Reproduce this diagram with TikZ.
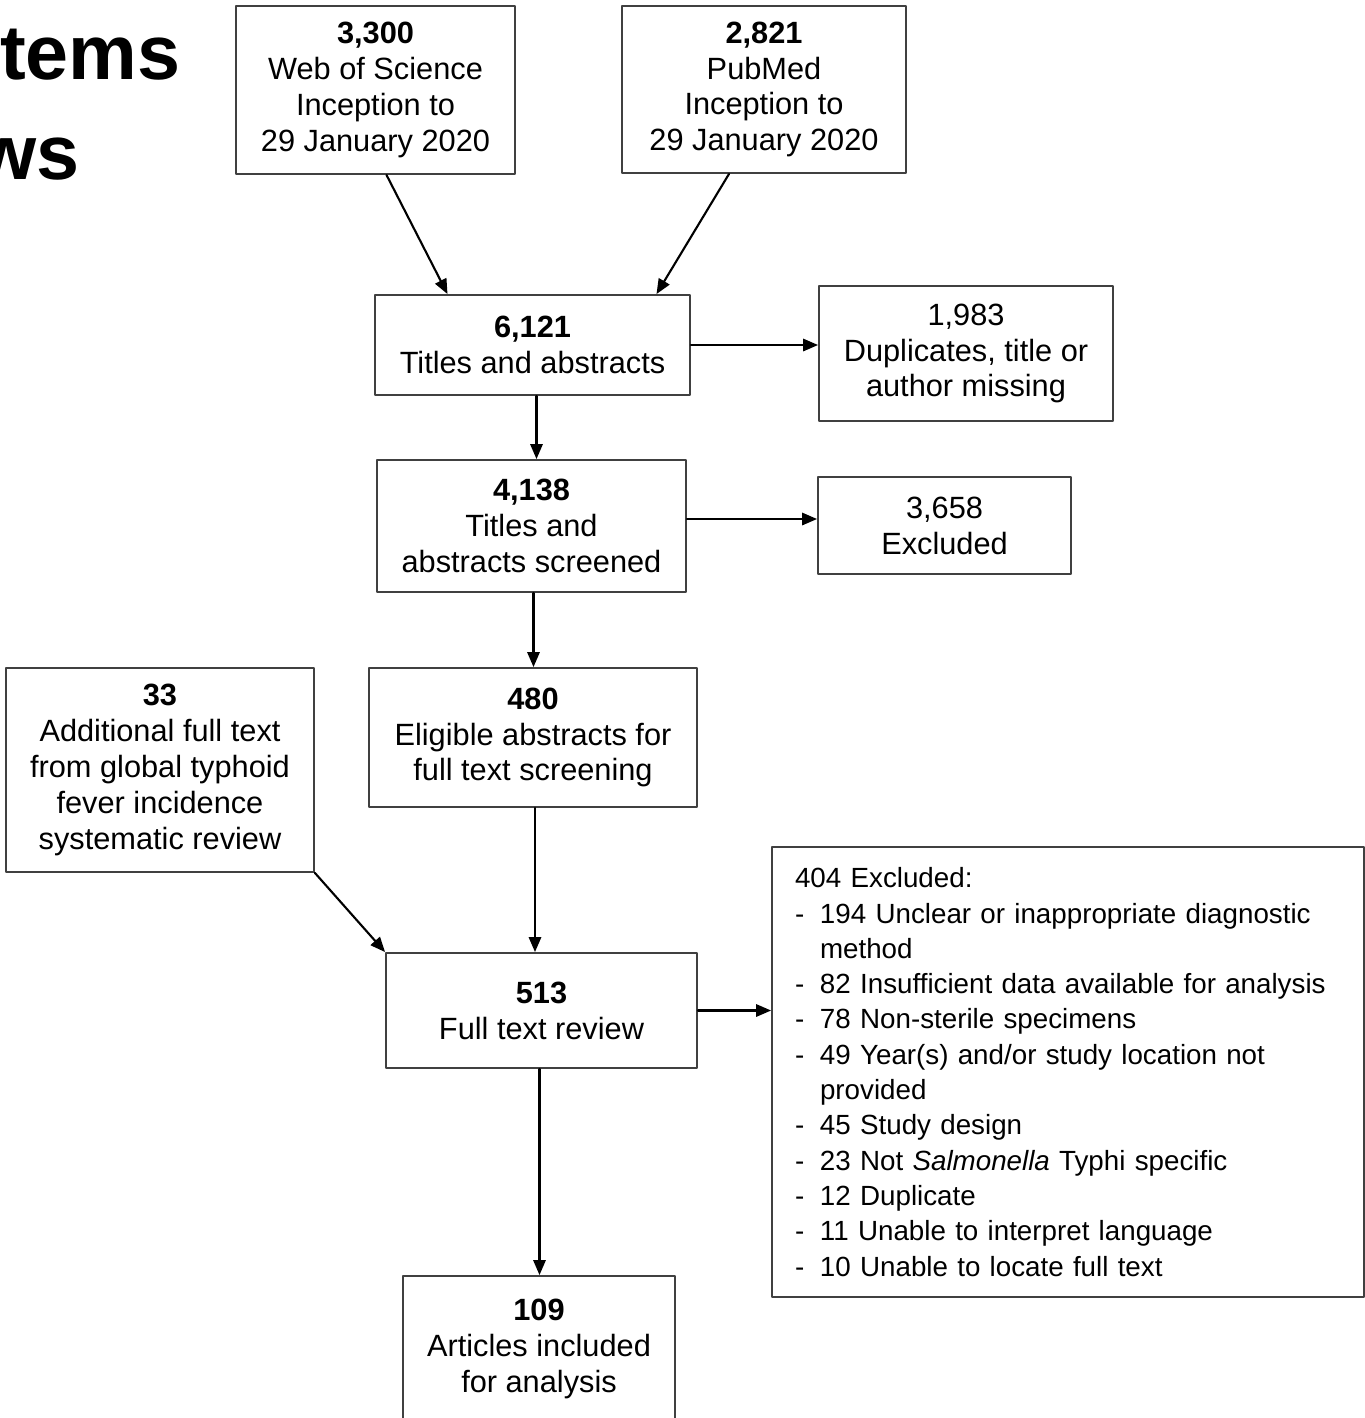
\documentclass[tikz,border=0pt]{standalone}
\usepackage{fontspec}
\setmainfont{Liberation Sans}
\usetikzlibrary{arrows.meta,calc}
\newcommand{\exitem}[1]{\mbox{\makebox[14.2pt][l]{-}#1}}
\newcommand{\excont}[1]{\mbox{\hspace*{14.2pt}#1}}
\hyphenpenalty=10000
\begin{document}
\begin{tikzpicture}[line cap=round,line join=round,>={Triangle[length=8.5pt,width=7pt]},x=0.02cm,y=-0.02cm,
	box/.style={draw=black!75,line width=1.1pt,align=center,inner sep=0pt,font=\fontsize{17.5}{20.4}\selectfont},
	flow/.style={->,line width=1.2pt},
	heading/.style={inner sep=0pt,font=\fontsize{44}{48}\selectfont\bfseries}]
	\clip (0,0) rectangle (1365,1418);
	\node[heading,anchor=base east] (tems) at (181,79) {tems};
	\node[heading,anchor=base east] (ws) at (80,179) {ws};
	\node[box,minimum width=5.58cm,minimum height=3.36cm] (wos) at (375.5,90) {\textbf{3,300}\\Web of Science\\Inception to\\29 January 2020};
	\node[box,minimum width=5.68cm,minimum height=3.34cm] (pubmed) at (764,89.5) {\textbf{2,821}\\PubMed\\Inception to\\29 January 2020};
	\node[box,minimum width=6.3cm,minimum height=2cm] (titles) at (532.5,345) {\textbf{6,121}\\Titles and abstracts};
	\node[box,minimum width=5.88cm,minimum height=2.7cm] (dupl) at (966,353.5) {1,983\\Duplicates, title or\\author missing};
	\node[box,minimum width=6.18cm,minimum height=2.64cm] (screened) at (531.5,526) {\textbf{4,138}\\Titles and\\abstracts screened};
	\node[box,minimum width=5.06cm,minimum height=1.94cm] (excl) at (944.5,525.5) {3,658\\Excluded};
	\node[box,minimum width=6.56cm,minimum height=2.78cm] (eligible) at (533,737.5) {\textbf{480}\\Eligible abstracts for\\full text screening};
	\node[box,minimum width=6.16cm,minimum height=4.08cm] (additional) at (160,770) {\textbf{33}\\Additional full text\\from global typhoid\\fever incidence\\systematic review};
	\node[box,minimum width=6.22cm,minimum height=2.3cm] (fulltext) at (541.5,1010.5) {\textbf{513}\\Full text review};
	\node[box,align=left,text width=10.92cm,inner xsep=0.46cm,minimum height=9cm,
		font=\fontsize{15.8}{20.1}\selectfont] (reasons) at (1068,1072) {404 Excluded:\\
		\exitem{194 Unclear or inappropriate diagnostic}\\
		\excont{method}\\
		\exitem{82 Insufficient data available for analysis}\\
		\exitem{78 Non-sterile specimens}\\
		\exitem{49 Year(s) and/or study location not}\\
		\excont{provided}\\
		\exitem{45 Study design}\\
		\exitem{23 Not \textit{Salmonella} Typhi specific}\\
		\exitem{12 Duplicate}\\
		\exitem{11 Unable to interpret language}\\
		\exitem{10 Unable to locate full text}};
	\node[box,minimum width=5.44cm,minimum height=2.92cm] (included) at (539,1349) {\textbf{109}\\Articles included\\for analysis};
	\draw[flow] ($(wos.south)+(11,0)$) -- ($(titles.north)+(-85,0)$);
	\draw[flow] ($(pubmed.south)+(-35,0)$) -- ($(titles.north)+(124,0)$);
	\draw[flow] (titles.east) -- (titles.east -| dupl.west);
	\draw[flow] ($(titles.south)+(4,0)$) -- ($(titles.south |- screened.north)+(4,0)$);
	\draw[flow] ($(screened.east)+(0,-7)$) -- ($(screened.east -| excl.west)+(0,-7)$);
	\draw[flow] ($(screened.south)+(2,0)$) -- ($(screened.south |- eligible.north)+(2,0)$);
	\draw[flow] ($(eligible.south)+(2,0)$) -- ($(eligible.south |- fulltext.north)+(2,0)$);
	\draw[flow] (additional.south east) -- (fulltext.north west);
	\draw[flow] (fulltext.east) -- (fulltext.east -| reasons.west);
	\draw[flow] ($(fulltext.south)+(-2,0)$) -- ($(fulltext.south |- included.north)+(-2,0)$);
\end{tikzpicture}
\end{document}
